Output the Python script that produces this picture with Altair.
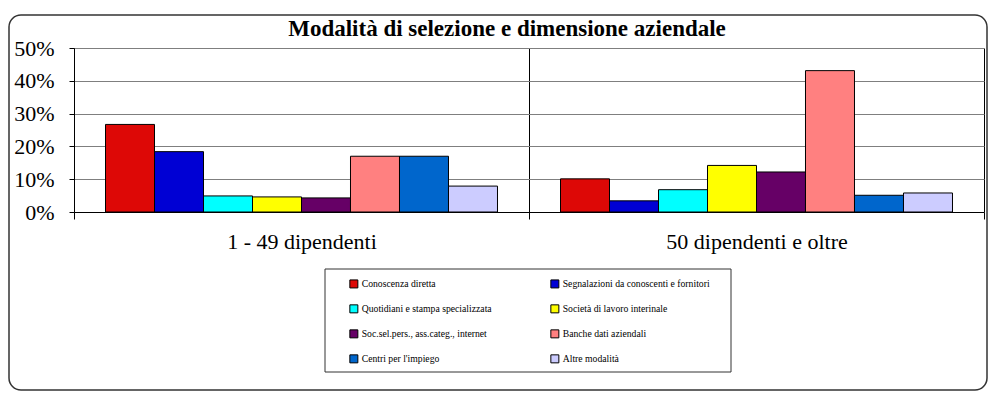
import altair as alt
import pandas as pd

groups = ["1 - 49 dipendenti", "50 dipendenti e oltre"]
series = [
    "Conoscenza diretta",
    "Segnalazioni da conoscenti e fornitori",
    "Quotidiani e stampa specializzata",
    "Società di lavoro interinale",
    "Soc.sel.pers., ass.categ., internet",
    "Banche dati aziendali",
    "Centri per l'impiego",
    "Altre modalità",
]
values_small = [0.267, 0.184, 0.049, 0.046, 0.043, 0.170, 0.170, 0.079]
values_large = [0.101, 0.034, 0.068, 0.142, 0.122, 0.431, 0.051, 0.058]
colors = ["#DD0806", "#0000D4", "#00FFFF", "#FFFF00", "#660066", "#FF8080", "#0066CC", "#CCCCFF"]
y_ticks = [0, 0.1, 0.2, 0.3, 0.4, 0.5]

rows = []
for g, vals in zip(groups, [values_small, values_large]):
    for s, v in zip(series, vals):
        rows.append({"group": g, "series": s, "value": v})
df = pd.DataFrame(rows)

SERIF = "'Times New Roman', 'Liberation Serif', 'DejaVu Serif', serif"
W, H = 910, 164

bars = alt.Chart(df).mark_bar(stroke="black", strokeWidth=1).encode(
    x=alt.X(
        "group:N",
        sort=groups,
        scale=alt.Scale(paddingInner=0, paddingOuter=0),
        axis=alt.Axis(
            title=None, labelAngle=0, labelFont=SERIF, labelFontSize=22,
            labelColor="black", labelLimit=400, tickBand="extent", tickSize=7,
            tickColor="black", domainColor="black", grid=True, gridColor="black",
            gridWidth=1, labelPadding=12,
        ),
    ),
    xOffset=alt.XOffset(
        "series:N", sort=series,
        scale=alt.Scale(paddingInner=0, paddingOuter=0.643),
    ),
    y=alt.Y(
        "value:Q",
        scale=alt.Scale(domain=[0, 0.5]),
        axis=alt.Axis(
            title=None, values=y_ticks, format=".0%", labelFont=SERIF,
            labelFontSize=22, labelColor="black", tickColor="black", tickSize=5,
            domainColor="black", gridColor="#7f7f7f", gridWidth=1, labelPadding=15,
        ),
    ),
    color=alt.Color(
        "series:N",
        scale=alt.Scale(domain=series, range=colors),
        legend=alt.Legend(
            title=None, orient="none", legendX=275, legendY=231, columns=2,
            direction="horizontal",
            symbolType="square", symbolSize=64, symbolStrokeColor="black",
            symbolStrokeWidth=1, symbolOpacity=1, labelFont=SERIF, labelFontSize=9.7,
            labelColor="black", labelOffset=3, columnPadding=56, rowPadding=12,
            padding=0,
        ),
    ),
)

one = pd.DataFrame({"k": [0]})
outer = alt.Chart(one).mark_rect(
    fill="white", fillOpacity=0, stroke="#333333", strokeWidth=1.5, cornerRadius=12
).encode(
    x=alt.value(-65), x2=alt.value(W + 3), y=alt.value(-33), y2=alt.value(342)
)
legend_frame = alt.Chart(one).mark_rect(
    fill="white", fillOpacity=0, stroke="#333333", strokeWidth=1
).encode(
    x=alt.value(251), x2=alt.value(657), y=alt.value(221), y2=alt.value(324)
)

chart = alt.layer(outer, legend_frame, bars).properties(
    width=W, height=H,
    padding={"left": 0, "top": 6, "right": 0, "bottom": 0},
    title=alt.TitleParams(
        "Modalità di selezione e dimensione aziendale", font=SERIF, fontSize=23,
        fontWeight="bold", color="black", anchor="middle", dx=-22, dy=35, offset=8,
    ),
).configure_view(strokeWidth=0)

chart.save("out.html", embed_options={"renderer": "svg", "actions": False})
